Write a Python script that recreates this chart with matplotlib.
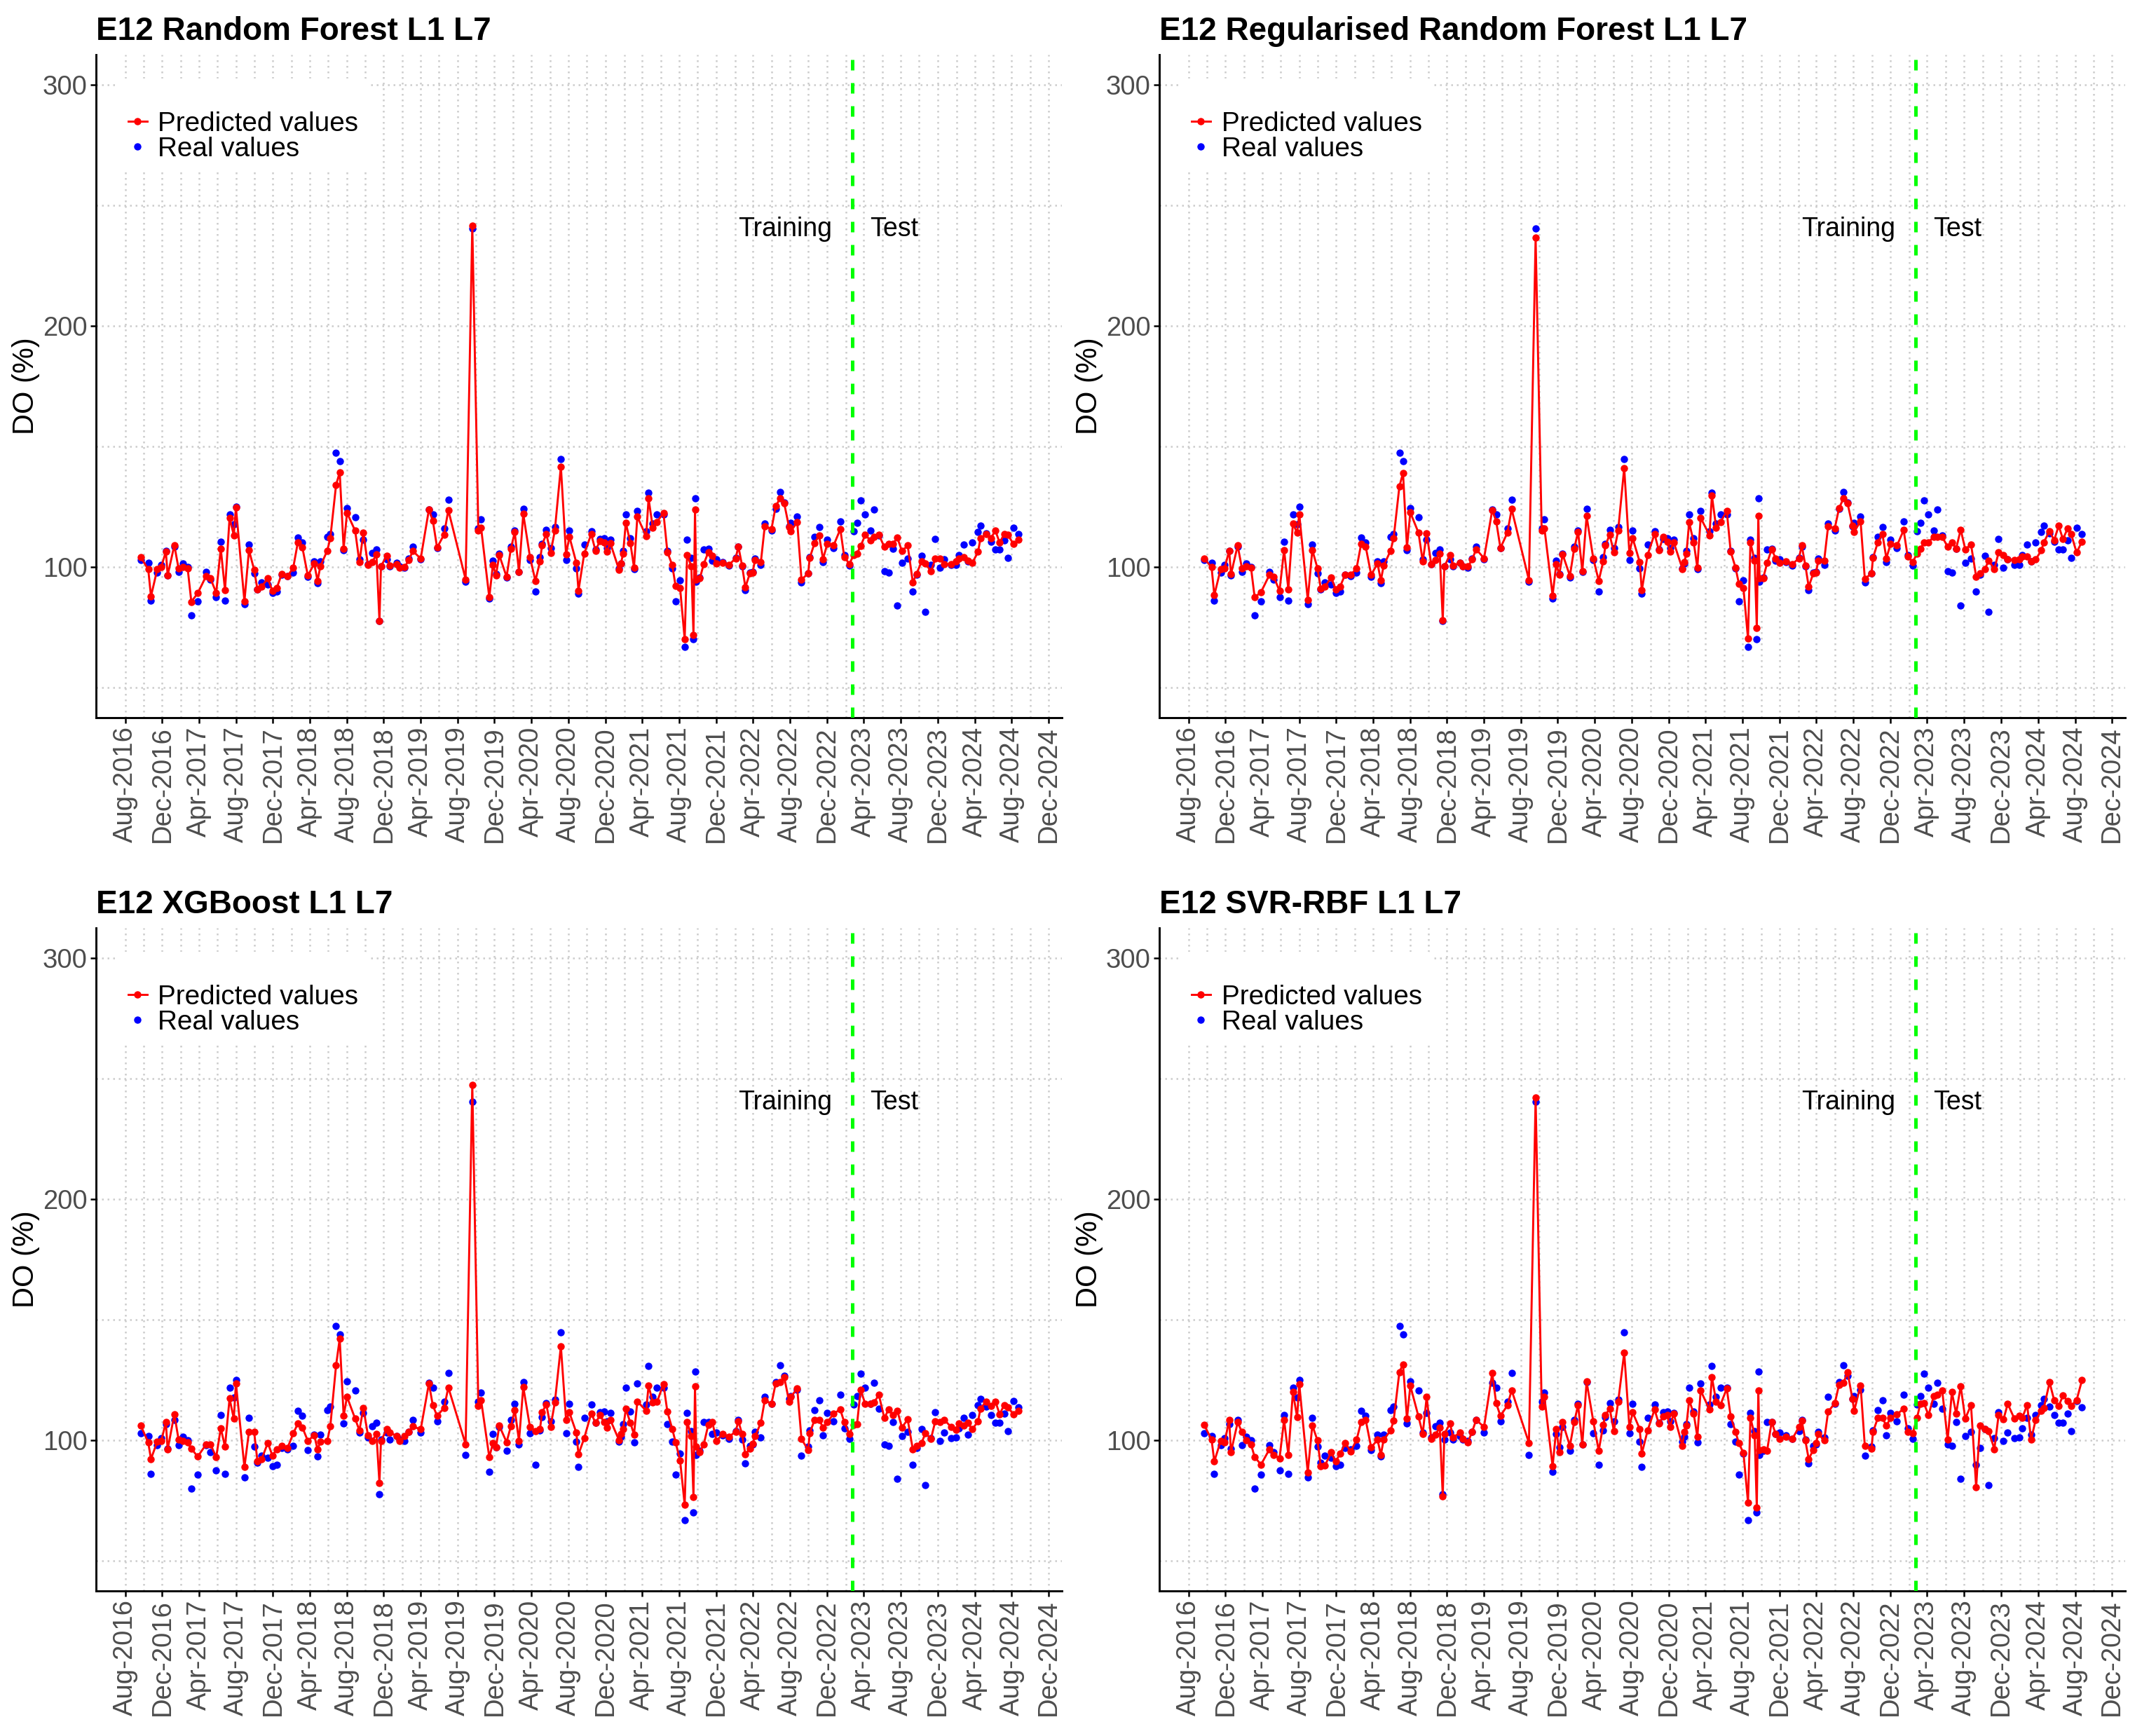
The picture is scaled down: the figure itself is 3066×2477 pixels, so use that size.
import pandas as pd
import matplotlib
matplotlib.use('Agg')
import matplotlib.pyplot as plt
from matplotlib.lines import Line2D

plt.rcParams['font.family'] = ['Liberation Sans', 'DejaVu Sans']

# sampling dates
dates = pd.to_datetime([
    '2016-09-21', '2016-10-16', '2016-10-25', '2016-11-15', '2016-11-28', '2016-12-13', '2016-12-19', '2017-01-10', '2017-01-24', '2017-02-07',
    '2017-02-23', '2017-03-07', '2017-03-28', '2017-04-25', '2017-05-09', '2017-05-28', '2017-06-12', '2017-06-26', '2017-07-11', '2017-07-25',
    '2017-08-01', '2017-08-29', '2017-09-13', '2017-09-30', '2017-10-11', '2017-10-25', '2017-11-14', '2017-11-29', '2017-12-14', '2017-12-30',
    '2018-01-18', '2018-02-06', '2018-02-21', '2018-03-08', '2018-03-26', '2018-04-16', '2018-04-27', '2018-05-06', '2018-05-29', '2018-06-08',
    '2018-06-27', '2018-07-09', '2018-07-22', '2018-08-02', '2018-08-29', '2018-09-12', '2018-09-25', '2018-10-10', '2018-10-24', '2018-11-07',
    '2018-11-17', '2018-11-22', '2018-12-11', '2018-12-21', '2019-01-13', '2019-01-23', '2019-02-08', '2019-02-22', '2019-03-07', '2019-04-02',
    '2019-04-29', '2019-05-12', '2019-05-26', '2019-06-18', '2019-07-02', '2019-08-28', '2019-09-19', '2019-10-09', '2019-10-18', '2019-11-14',
    '2019-11-26', '2019-12-06', '2019-12-17', '2020-01-10', '2020-01-24', '2020-02-06', '2020-02-20', '2020-03-05', '2020-03-27', '2020-04-14',
    '2020-04-29', '2020-05-06', '2020-05-20', '2020-06-03', '2020-06-17', '2020-07-07', '2020-07-24', '2020-08-04', '2020-08-27', '2020-09-03',
    '2020-09-22', '2020-10-15', '2020-10-29', '2020-11-13', '2020-11-26', '2020-12-05', '2020-12-17', '2021-01-15', '2021-01-21', '2021-01-28',
    '2021-02-06', '2021-02-21', '2021-03-05', '2021-03-16', '2021-04-14', '2021-04-22', '2021-05-06', '2021-05-20', '2021-06-10', '2021-06-23',
    '2021-07-09', '2021-07-20', '2021-08-04', '2021-08-19', '2021-08-27', '2021-09-10', '2021-09-17', '2021-09-22', '2021-09-26', '2021-10-08',
    '2021-10-21', '2021-11-05', '2021-11-18', '2021-12-02', '2021-12-22', '2022-01-12', '2022-02-03', '2022-02-12', '2022-02-24', '2022-03-07',
    '2022-03-22', '2022-03-31', '2022-04-08', '2022-04-27', '2022-05-10', '2022-06-01', '2022-06-15', '2022-06-30', '2022-07-13', '2022-07-29',
    '2022-08-04', '2022-08-25', '2022-09-08', '2022-09-30', '2022-10-05', '2022-10-21', '2022-11-05', '2022-11-18', '2022-12-02', '2022-12-23',
    '2023-01-14', '2023-01-27', '2023-02-13', '2023-02-27', '2023-03-10', '2023-03-22', '2023-04-06', '2023-04-23', '2023-05-05', '2023-05-21',
    '2023-06-08', '2023-06-22', '2023-07-06', '2023-07-21', '2023-08-05', '2023-08-24', '2023-09-10', '2023-09-22', '2023-10-09', '2023-10-21',
    '2023-11-09', '2023-11-23', '2023-12-09', '2023-12-23', '2024-01-14', '2024-01-30', '2024-02-09', '2024-02-25', '2024-03-09', '2024-03-24',
    '2024-04-12', '2024-04-20', '2024-05-09', '2024-05-24', '2024-06-08', '2024-06-22', '2024-07-07', '2024-07-19', '2024-08-06', '2024-08-24',
])

# measured DO (%)
real = [
    102.9, 101.7, 86.0, 97.8, 100.8, 106.6, 96.6, 108.3, 98.0, 101.4,
    100.0, 79.9, 85.8, 97.9, 94.9, 87.4, 110.5, 86.0, 121.8, 117.7,
    125.0, 84.5, 109.4, 97.3, 90.8, 93.6, 92.7, 89.1, 89.7, 96.7,
    96.1, 97.6, 112.1, 110.1, 95.9, 102.4, 93.2, 102.2, 112.6, 113.8,
    147.4, 143.8, 107.0, 124.5, 120.6, 103.3, 111.4, 101.2, 105.8, 107.3,
    77.5, 100.3, 103.1, 100.2, 101.7, 100.2, 99.7, 103.4, 108.3, 103.1,
    123.7, 121.7, 107.8, 115.9, 127.8, 93.9, 240.5, 116.0, 119.7, 86.8,
    102.6, 97.1, 105.4, 95.5, 108.3, 115.0, 98.1, 124.0, 102.8, 89.7,
    104.1, 109.7, 115.3, 107.9, 116.7, 144.8, 102.9, 115.0, 99.4, 89.0,
    109.3, 114.9, 107.3, 111.5, 111.8, 107.8, 111.4, 99.5, 101.5, 106.6,
    121.9, 111.8, 99.0, 123.4, 114.8, 130.8, 118.0, 121.9, 121.8, 106.6,
    99.3, 85.7, 94.6, 66.8, 111.3, 103.9, 70.0, 128.4, 93.8, 95.7,
    107.4, 107.5, 102.7, 103.3, 101.9, 100.7, 103.9, 108.5, 100.2, 90.3,
    97.6, 98.1, 103.4, 101.0, 117.9, 115.2, 124.0, 131.0, 126.7, 117.0,
    118.3, 121.0, 93.7, 97.4, 104.1, 112.4, 116.5, 102.1, 111.4, 107.8,
    119.0, 104.9, 100.6, 114.9, 118.3, 127.7, 121.9, 115.1, 123.7, 113.1,
    98.3, 97.7, 107.6, 84.0, 101.7, 103.5, 89.9, 96.9, 104.6, 81.4,
    100.8, 111.6, 99.8, 103.3, 100.8, 101.0, 105.0, 109.3, 102.3, 110.3,
    114.4, 117.1, 114.0, 110.5, 107.3, 107.3, 111.0, 103.8, 116.4, 113.6,
]

pred_rf = [
    104.1, 99.0, 87.8, 99.2, 100.0, 106.4, 96.6, 109.0, 99.3, 100.0,
    99.3, 85.6, 89.1, 96.3, 95.3, 89.3, 107.7, 90.4, 120.4, 113.2,
    124.7, 85.7, 107.0, 98.8, 90.6, 91.8, 95.4, 90.0, 91.4, 97.2,
    96.1, 99.8, 110.2, 108.1, 96.4, 101.4, 94.2, 100.2, 106.8, 111.9,
    134.0, 139.3, 107.6, 122.5, 115.0, 101.9, 114.2, 100.8, 101.9, 105.3,
    77.7, 100.3, 104.7, 100.7, 101.3, 99.8, 100.0, 102.9, 106.6, 103.5,
    123.8, 119.2, 108.0, 113.5, 123.6, 94.9, 241.5, 115.0, 116.3, 87.4,
    101.0, 96.6, 104.9, 95.9, 107.5, 114.4, 98.0, 122.0, 104.2, 94.2,
    102.3, 109.1, 113.8, 105.8, 115.1, 141.7, 105.1, 112.6, 101.7, 90.2,
    105.6, 113.6, 106.8, 110.9, 110.3, 106.3, 109.9, 98.7, 101.5, 105.5,
    118.4, 109.9, 99.8, 120.9, 112.7, 128.4, 116.2, 118.7, 122.5, 106.2,
    100.8, 92.1, 91.2, 70.0, 105.0, 100.3, 71.9, 123.8, 94.8, 95.3,
    101.3, 106.2, 104.6, 101.5, 101.7, 100.9, 103.6, 108.5, 100.7, 91.6,
    97.4, 97.8, 103.0, 101.9, 117.0, 115.7, 125.2, 128.6, 126.4, 116.5,
    114.8, 118.7, 94.8, 97.3, 103.7, 109.9, 113.0, 103.3, 109.6, 109.0,
    115.7, 104.1, 101.3, 105.0, 105.6, 108.7, 113.3, 111.1, 112.6, 113.4,
    108.3, 109.7, 109.7, 112.1, 106.6, 108.9, 93.6, 97.1, 102.3, 101.4,
    98.3, 103.4, 103.4, 101.2, 101.2, 102.3, 103.6, 104.2, 102.7, 101.7,
    106.3, 112.0, 113.6, 111.9, 115.1, 110.1, 113.6, 113.3, 109.7, 111.2,
]

pred_rrf = [
    103.6, 99.9, 88.3, 99.2, 99.5, 106.8, 97.0, 108.9, 99.5, 100.2,
    99.7, 87.4, 89.6, 96.8, 95.9, 90.1, 107.1, 90.8, 118.0, 114.2,
    121.9, 86.4, 107.1, 99.5, 91.0, 91.8, 95.7, 90.8, 92.0, 96.8,
    96.8, 99.5, 109.6, 108.4, 96.8, 101.4, 94.4, 100.5, 106.8, 111.9,
    133.4, 139.0, 108.1, 122.6, 114.2, 102.3, 113.9, 101.1, 102.8, 105.5,
    78.0, 100.2, 105.0, 100.7, 101.6, 100.2, 100.2, 103.1, 107.4, 103.6,
    123.6, 119.0, 107.9, 114.2, 124.0, 94.6, 236.5, 115.1, 116.1, 88.2,
    101.2, 96.8, 105.3, 96.3, 107.6, 114.6, 98.3, 121.1, 103.6, 94.3,
    102.4, 108.9, 113.4, 106.0, 115.1, 141.1, 105.8, 111.9, 102.1, 90.3,
    105.0, 113.7, 106.9, 112.5, 110.5, 106.3, 110.3, 99.2, 102.1, 105.5,
    118.5, 110.3, 99.7, 120.4, 113.2, 129.6, 116.4, 118.5, 123.3, 106.3,
    99.7, 93.0, 91.2, 70.3, 110.1, 102.6, 74.7, 121.1, 95.4, 95.4,
    101.6, 107.4, 103.6, 101.6, 102.3, 101.2, 103.6, 108.9, 100.7, 91.8,
    97.3, 97.8, 102.6, 102.6, 116.9, 116.1, 124.3, 128.6, 126.5, 117.2,
    114.6, 119.0, 95.1, 97.3, 103.8, 110.3, 113.7, 103.6, 109.6, 108.9,
    115.3, 104.5, 102.1, 105.5, 107.6, 110.1, 110.3, 112.5, 112.5, 112.5,
    108.4, 110.3, 107.6, 115.5, 107.4, 109.3, 95.9, 97.3, 99.2, 102.6,
    99.2, 106.0, 105.0, 103.3, 102.8, 103.3, 104.3, 104.5, 102.3, 103.1,
    106.9, 110.3, 114.9, 111.1, 117.1, 111.5, 115.9, 113.7, 106.0, 110.6,
]

pred_xgb = [
    106.2, 99.0, 92.2, 99.5, 99.7, 107.4, 96.1, 110.8, 100.2, 99.7,
    99.0, 96.5, 93.2, 98.3, 98.3, 93.0, 105.0, 97.3, 117.3, 108.9,
    123.6, 88.8, 103.6, 103.4, 91.2, 92.2, 98.9, 93.7, 96.3, 97.6,
    96.8, 102.8, 106.9, 105.3, 99.7, 102.1, 96.1, 99.5, 99.7, 105.7,
    131.0, 142.1, 110.1, 118.0, 108.9, 104.0, 113.4, 102.1, 99.7, 102.6,
    82.2, 99.7, 104.5, 103.1, 101.8, 99.7, 101.8, 103.6, 105.7, 104.5,
    123.5, 114.4, 110.1, 113.4, 121.9, 98.3, 247.5, 114.2, 116.6, 93.0,
    98.7, 97.0, 106.0, 99.2, 105.7, 112.5, 99.7, 122.1, 105.5, 103.8,
    104.5, 111.5, 114.9, 105.5, 115.6, 139.0, 108.4, 111.5, 103.1, 94.1,
    100.9, 111.1, 107.2, 110.3, 107.6, 105.2, 108.4, 99.9, 102.6, 104.7,
    113.0, 107.2, 102.4, 116.1, 112.2, 122.6, 115.6, 115.9, 123.3, 111.8,
    104.7, 99.2, 91.5, 73.2, 107.6, 101.8, 76.4, 122.4, 97.3, 95.1,
    98.3, 106.5, 107.6, 99.7, 102.6, 101.4, 103.6, 107.9, 102.6, 94.1,
    96.6, 98.6, 101.6, 107.2, 116.6, 115.1, 123.6, 124.0, 126.2, 116.1,
    118.0, 121.4, 100.5, 95.9, 102.8, 108.4, 108.4, 105.3, 107.4, 111.1,
    112.7, 107.4, 102.6, 106.5, 106.6, 120.9, 115.1, 115.1, 115.6, 118.8,
    109.2, 112.7, 110.3, 112.2, 105.3, 108.6, 96.1, 97.6, 98.9, 102.8,
    100.7, 107.9, 107.4, 108.4, 105.5, 104.3, 106.9, 106.0, 107.2, 104.5,
    107.9, 113.2, 116.1, 114.2, 116.1, 110.8, 114.6, 113.7, 110.8, 112.2,
]

pred_svr = [
    106.5, 100.2, 91.2, 99.7, 99.0, 108.4, 95.1, 107.4, 103.4, 99.9,
    98.3, 93.0, 89.9, 96.3, 93.9, 92.5, 108.4, 93.9, 119.9, 109.5,
    123.3, 86.7, 106.2, 99.9, 89.1, 89.6, 94.9, 91.2, 94.4, 98.7,
    95.4, 100.2, 107.6, 108.4, 97.0, 100.2, 93.9, 100.2, 104.0, 108.1,
    128.3, 131.5, 108.9, 122.6, 109.8, 102.6, 118.0, 100.7, 102.4, 105.3,
    76.8, 102.6, 106.9, 101.2, 103.1, 100.7, 99.2, 103.6, 108.4, 105.5,
    127.8, 115.3, 110.1, 114.4, 120.7, 98.9, 242.0, 114.0, 118.0, 89.1,
    104.7, 95.1, 107.4, 97.6, 107.4, 114.6, 98.3, 124.3, 107.9, 95.6,
    106.5, 110.3, 113.2, 103.8, 115.9, 136.3, 105.5, 111.5, 104.7, 94.4,
    104.0, 112.7, 106.9, 109.8, 110.3, 105.5, 111.0, 97.6, 103.6, 106.0,
    116.6, 111.1, 101.4, 120.6, 112.7, 126.2, 116.1, 114.6, 121.4, 109.8,
    103.4, 98.7, 94.7, 74.2, 109.3, 102.1, 72.0, 120.7, 95.9, 96.1,
    95.7, 107.6, 102.6, 100.7, 101.4, 100.5, 105.5, 108.2, 99.9, 92.2,
    95.9, 98.7, 102.6, 99.9, 111.8, 115.3, 123.0, 123.8, 128.3, 117.2,
    112.2, 122.8, 97.6, 96.6, 103.4, 109.3, 109.2, 106.0, 109.2, 110.8,
    113.0, 103.4, 102.8, 109.3, 115.1, 115.3, 110.3, 118.3, 118.8, 120.7,
    100.2, 119.9, 111.0, 122.4, 108.9, 114.6, 80.4, 106.0, 104.5, 103.8,
    96.3, 110.5, 108.6, 115.1, 108.9, 110.1, 109.3, 114.6, 100.2, 108.4,
    112.2, 113.4, 124.0, 116.6, 114.2, 118.5, 116.3, 114.2, 116.6, 125.0,
]

titles = ['E12 Random Forest L1 L7', 'E12 Regularised Random Forest L1 L7',
          'E12 XGBoost L1 L7', 'E12 SVR-RBF L1 L7']
preds = [pred_rf, pred_rrf, pred_xgb, pred_svr]
split_date = pd.Timestamp('2023-02-22')

major_ticks = pd.date_range('2016-08-01', '2024-12-01', freq='4MS')
minor_ticks = pd.date_range('2016-10-01', '2024-10-01', freq='4MS')

fig = plt.figure(figsize=(3066 / 300, 2477 / 300), dpi=300)
boxes = [[0.0447, 0.5866, 0.4494, 0.3819], [0.5395, 0.5866, 0.4494, 0.3819],
         [0.0447, 0.0836, 0.4494, 0.3819], [0.5395, 0.0836, 0.4494, 0.3819]]

grid_style = dict(color='#CCCCCC', linewidth=0.6, linestyle=(0, (1, 2.2)))
ms = 2.5

for box, title, pred in zip(boxes, titles, preds):
    ax = fig.add_axes(box)

    ax.plot(dates, real, linestyle='none', marker='o', ms=ms, mew=0,
            color='blue', zorder=3)
    ax.plot(dates, pred, color='red', lw=0.7, marker='o', ms=ms, mew=0,
            zorder=4)
    ax.axvline(split_date, color='#00FF00', lw=1.2, linestyle=(0, (3, 3.6)),
               zorder=5)

    ax.text(split_date - pd.Timedelta(days=67), 240, 'Training', ha='right',
            va='center', fontsize=9)
    ax.text(split_date + pd.Timedelta(days=58), 240, 'Test', ha='left',
            va='center', fontsize=9)

    ax.set_xlim(pd.Timestamp('2016-04-27'), pd.Timestamp('2025-01-13'))
    ax.set_ylim(37.5, 312.5)
    ax.set_yticks([100, 200, 300])
    ax.set_yticks([50, 150, 250], minor=True)
    ax.set_xticks(major_ticks)
    ax.set_xticklabels([d.strftime('%b-%Y') for d in major_ticks], rotation=90)
    ax.set_xticks(minor_ticks, minor=True)

    ax.grid(True, which='both', **grid_style)
    ax.set_axisbelow(True)

    for side in ['top', 'right']:
        ax.spines[side].set_visible(False)
    for side in ['left', 'bottom']:
        ax.spines[side].set_linewidth(0.7)
    ax.tick_params(which='major', length=2, width=0.6, pad=1,
                   labelsize=9.2, labelcolor='#4D4D4D')
    ax.tick_params(which='minor', length=0)

    ax.set_ylabel('DO (%)', fontsize=10, labelpad=1)
    ax.set_title(title, loc='left', fontweight='bold', fontsize=11, pad=5)

    handles = [Line2D([], [], color='red', lw=0.7, marker='o', ms=ms, mew=0),
               Line2D([], [], color='blue', lw=0, marker='o', ms=ms, mew=0)]
    # blank title keeps the extra space ggplot leaves above the keys
    leg = ax.legend(handles, ['Predicted values', 'Real values'],
                    loc='upper left', bbox_to_anchor=(0.022, 0.964),
                    frameon=True, facecolor='white', edgecolor='none',
                    framealpha=1, fontsize=9.3, handlelength=0.7,
                    handletextpad=0.4, labelspacing=0.0, borderpad=0.4,
                    borderaxespad=0, title=' ', title_fontsize=8)
    leg.set_zorder(6)

fig.savefig('out.png', dpi=300)
